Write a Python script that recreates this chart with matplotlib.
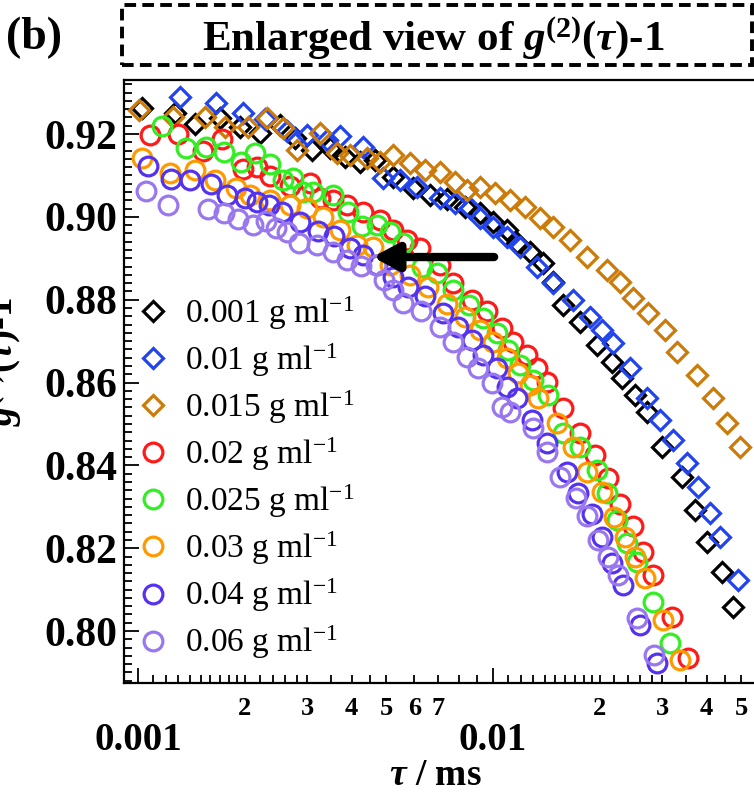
import numpy as np
import matplotlib
matplotlib.use("Agg")
import matplotlib.pyplot as plt
from matplotlib.patches import Rectangle
from matplotlib.ticker import FixedLocator, FuncFormatter

plt.rcParams['font.family'] = ['Liberation Serif', 'DejaVu Serif']
plt.rcParams['mathtext.fontset'] = 'custom'
plt.rcParams['mathtext.rm'] = 'Liberation Serif'
plt.rcParams['mathtext.it'] = 'Liberation Serif:italic'
plt.rcParams['mathtext.bf'] = 'Liberation Serif:bold'
plt.rcParams['mathtext.bfit'] = 'Liberation Serif:italic:bold'

# tau in ms, g2(tau)-1 values
tau_0001 = [0.001026, 0.001271, 0.001447, 0.001702, 0.001938, 0.002206, 0.002512, 0.002769,
            0.003091, 0.003474, 0.003829, 0.004220, 0.004652, 0.005228, 0.005952, 0.006646,
            0.007421, 0.008340, 0.009192, 0.010000, 0.010951, 0.011684, 0.012712, 0.013831,
            0.014758, 0.015747, 0.017582, 0.019632, 0.021638, 0.023088, 0.025120, 0.027153,
            0.029927, 0.034073, 0.037070, 0.040071, 0.044166, 0.047431]
g_0001 = [0.9263, 0.9251, 0.9224, 0.9239, 0.9217, 0.9202, 0.9222, 0.9190,
          0.9161, 0.9166, 0.9144, 0.9132, 0.9137, 0.9096, 0.9070, 0.9053,
          0.9043, 0.9024, 0.9009, 0.8988, 0.8968, 0.8937, 0.8915, 0.8889,
          0.8843, 0.8787, 0.8746, 0.8691, 0.8650, 0.8611, 0.8570, 0.8529,
          0.8444, 0.8372, 0.8292, 0.8215, 0.8143, 0.8058]

tau_001 = [0.001313, 0.001659, 0.001976, 0.002279, 0.002629, 0.002993, 0.003407, 0.003707,
           0.004303, 0.004900, 0.005470, 0.006108, 0.007091, 0.007816, 0.008615, 0.009192,
           0.010000, 0.010951, 0.011914, 0.013303, 0.014758, 0.016802, 0.018761, 0.020279,
           0.021779, 0.024318, 0.027153, 0.029542, 0.032141, 0.035196, 0.037799, 0.040858,
           0.043597, 0.049000]
g_001 = [0.9289, 0.9275, 0.9251, 0.9236, 0.9207, 0.9198, 0.9186, 0.9195,
         0.9169, 0.9094, 0.9089, 0.9072, 0.9045, 0.9033, 0.9021, 0.8997,
         0.8975, 0.8951, 0.8927, 0.8879, 0.8840, 0.8799, 0.8758, 0.8727,
         0.8695, 0.8635, 0.8563, 0.8510, 0.8461, 0.8406, 0.8348, 0.8285,
         0.8227, 0.8123]

tau_0015 = [0.001006, 0.001255, 0.001544, 0.001758, 0.002041, 0.002309, 0.002561, 0.002805,
            0.003256, 0.003636, 0.003955, 0.004417, 0.004805, 0.005228, 0.005837, 0.006434,
            0.007091, 0.007816, 0.008449, 0.009192, 0.010131, 0.011166, 0.012307, 0.013564,
            0.014758, 0.016478, 0.018399, 0.020948, 0.022791, 0.024796, 0.027329, 0.030515,
            0.032985, 0.037554, 0.041661, 0.045621, 0.049640]
g_0015 = [0.9258, 0.9241, 0.9241, 0.9217, 0.9217, 0.9239, 0.9214, 0.9161,
          0.9202, 0.9154, 0.9149, 0.9142, 0.9132, 0.9149, 0.9130, 0.9113,
          0.9108, 0.9084, 0.9065, 0.9072, 0.9058, 0.9041, 0.9024, 0.8997,
          0.8975, 0.8944, 0.8903, 0.8872, 0.8843, 0.8804, 0.8768, 0.8727,
          0.8674, 0.8618, 0.8563, 0.8502, 0.8444]

tau_002 = [0.001081, 0.001296, 0.001524, 0.001724, 0.001976, 0.002164, 0.002354, 0.002680,
           0.003051, 0.003256, 0.003542, 0.003879, 0.004303, 0.004805, 0.005228, 0.005725,
           0.006228, 0.007091, 0.007715, 0.008727, 0.009619, 0.010601, 0.011385, 0.012467,
           0.013303, 0.014194, 0.015747, 0.017582, 0.019379, 0.021084, 0.022791, 0.024796,
           0.026457, 0.028230, 0.031933, 0.035425]
g_002 = [0.9198, 0.9200, 0.9159, 0.9188, 0.9116, 0.9120, 0.9099, 0.9074,
         0.9082, 0.9045, 0.9041, 0.9029, 0.9012, 0.8992, 0.8968, 0.8944,
         0.8925, 0.8884, 0.8840, 0.8799, 0.8773, 0.8732, 0.8698, 0.8666,
         0.8635, 0.8601, 0.8538, 0.8478, 0.8425, 0.8369, 0.8307, 0.8254,
         0.8191, 0.8135, 0.8034, 0.7935]

tau_0025 = [0.001168, 0.001365, 0.001554, 0.001747, 0.001950, 0.002136, 0.002354, 0.002561,
            0.002733, 0.002916, 0.003111, 0.003542, 0.003904, 0.004276, 0.004713, 0.005127,
            0.005578, 0.006310, 0.006955, 0.007715, 0.008559, 0.009373, 0.010263, 0.011022,
            0.011914, 0.012962, 0.014287, 0.015747, 0.017582, 0.019632, 0.020948, 0.022351,
            0.023849, 0.025447, 0.028230, 0.031521]
g_0025 = [0.9219, 0.9166, 0.9169, 0.9157, 0.9132, 0.9154, 0.9128, 0.9089,
          0.9094, 0.9060, 0.9060, 0.9053, 0.9012, 0.8978, 0.8980, 0.8963,
          0.8937, 0.8879, 0.8864, 0.8823, 0.8787, 0.8756, 0.8720, 0.8679,
          0.8642, 0.8606, 0.8570, 0.8478, 0.8444, 0.8389, 0.8333, 0.8268,
          0.8213, 0.8167, 0.8070, 0.7971]

tau_003 = [0.001026, 0.001231, 0.001447, 0.001648, 0.001888, 0.002068, 0.002354, 0.002680,
           0.002993, 0.003320, 0.003707, 0.004139, 0.004592, 0.005127, 0.005837, 0.006560,
           0.007421, 0.008340, 0.009192, 0.010000, 0.010951, 0.011761, 0.012712, 0.013389,
           0.015146, 0.016802, 0.018399, 0.020279, 0.021921, 0.023542, 0.025120, 0.026803,
           0.030122, 0.033634]
g_003 = [0.9142, 0.9106, 0.9113, 0.9089, 0.9070, 0.9053, 0.9041, 0.9029,
         0.9021, 0.9000, 0.8968, 0.8932, 0.8927, 0.8884, 0.8860, 0.8831,
         0.8790, 0.8758, 0.8727, 0.8698, 0.8659, 0.8623, 0.8594, 0.8563,
         0.8502, 0.8444, 0.8384, 0.8336, 0.8275, 0.8227, 0.8179, 0.8128,
         0.8027, 0.7930]

tau_004 = [0.001067, 0.001239, 0.001401, 0.001606, 0.001781, 0.002002, 0.002164, 0.002339,
           0.002545, 0.002860, 0.003214, 0.003565, 0.003955, 0.004303, 0.004713, 0.005228,
           0.005762, 0.006434, 0.007231, 0.007970, 0.008727, 0.009373, 0.010263, 0.010951,
           0.011684, 0.012878, 0.014194, 0.016161, 0.017356, 0.019005, 0.020279, 0.021638,
           0.023238, 0.025948, 0.028972]
g_004 = [0.9123, 0.9091, 0.9089, 0.9079, 0.9053, 0.9045, 0.9036, 0.9029,
         0.9012, 0.8988, 0.8966, 0.8954, 0.8925, 0.8908, 0.8884, 0.8855,
         0.8831, 0.8809, 0.8768, 0.8734, 0.8703, 0.8666, 0.8635, 0.8589,
         0.8563, 0.8510, 0.8454, 0.8384, 0.8333, 0.8283, 0.8227, 0.8164,
         0.8111, 0.8015, 0.7923]

tau_006 = [0.001053, 0.001215, 0.001575, 0.001747, 0.001913, 0.002108, 0.002294, 0.002448,
           0.002629, 0.002841, 0.003193, 0.003542, 0.003879, 0.004248, 0.004682, 0.004931,
           0.005228, 0.005578, 0.006269, 0.007091, 0.007715, 0.008449, 0.009074, 0.009936,
           0.010601, 0.011166, 0.012962, 0.014194, 0.015443, 0.017132, 0.018399, 0.019760,
           0.021084, 0.022497, 0.025447, 0.028414]
g_006 = [0.9062, 0.9029, 0.9019, 0.9009, 0.8995, 0.8980, 0.8990, 0.8973,
         0.8963, 0.8937, 0.8932, 0.8915, 0.8896, 0.8881, 0.8884, 0.8848,
         0.8823, 0.8792, 0.8773, 0.8734, 0.8698, 0.8662, 0.8635, 0.8599,
         0.8541, 0.8529, 0.8490, 0.8432, 0.8372, 0.8321, 0.8278, 0.8220,
         0.8179, 0.8135, 0.8032, 0.7942]

series = [
    (tau_0001, g_0001, 'D', '#000000', '0.001'),
    (tau_001, g_001, 'D', '#2244ee', '0.01'),
    (tau_0015, g_0015, 'D', '#cc7a0a', '0.015'),
    (tau_002, g_002, 'o', '#ff1a1a', '0.02'),
    (tau_0025, g_0025, 'o', '#33ee22', '0.025'),
    (tau_003, g_003, 'o', '#ff9900', '0.03'),
    (tau_004, g_004, 'o', '#5533ee', '0.04'),
    (tau_006, g_006, 'o', '#9977ee', '0.06'),
]

fig = plt.figure(figsize=(7.54, 7.92), dpi=100)
ax = fig.add_axes([124 / 754, 1 - 683 / 792, (800 - 124) / 754, (683 - 80) / 792])

for t, g, m, c, lab in series:
    ms = 10.5 if m == 'D' else 13.5
    ax.plot(t, g, linestyle='none', marker=m, markersize=ms, markerfacecolor='none',
            markeredgecolor=c, markeredgewidth=2.3, label=lab + r' g ml$^{-1}$')

ax.set_xscale('log')
ax.set_xlim(0.000913, 0.0733)
ax.set_ylim(0.78746, 0.93304)

# x ticks
ax.xaxis.set_major_locator(FixedLocator([0.001, 0.01]))
ax.xaxis.set_major_formatter(FuncFormatter(lambda v, p: '0.001' if v < 0.005 else '0.01'))
mults = [1.1, 1.2, 1.3, 1.4, 1.5, 1.6, 1.7, 1.8, 1.9, 2, 2.2, 2.4, 2.6, 2.8, 3, 3.5, 4, 4.5, 5, 6, 7, 8, 9]
minor = [m * 0.001 for m in mults] + [m * 0.01 for m in mults]
ax.xaxis.set_minor_locator(FixedLocator(minor))
labelled = {2, 3, 4, 5, 6, 7}


def minor_fmt(v, p):
    for dec in (0.001, 0.01):
        m = v / dec
        if abs(m - round(m)) < 1e-6 and round(m) in labelled:
            if dec == 0.01 and round(m) > 5:
                return ''
            return str(int(round(m)))
    return ''


ax.xaxis.set_minor_formatter(FuncFormatter(minor_fmt))

ax.yaxis.set_major_locator(FixedLocator([0.80, 0.82, 0.84, 0.86, 0.88, 0.90, 0.92]))
ax.yaxis.set_major_formatter(FuncFormatter(lambda v, p: '%.2f' % v))
ax.yaxis.set_minor_locator(FixedLocator(np.arange(0.788, 0.934, 0.002)))

ax.tick_params(axis='both', which='both', direction='in', top=False, right=False, width=1.3)
ax.tick_params(axis='y', which='major', length=11, labelsize=30, pad=5)
ax.tick_params(axis='y', which='minor', length=6)
ax.tick_params(axis='x', which='major', length=11, labelsize=28, pad=28)
ax.tick_params(axis='x', which='minor', length=6, labelsize=19, pad=10)
for lab in ax.get_yticklabels() + ax.get_xticklabels() + ax.get_xticklabels(minor=True):
    lab.set_fontweight('bold')
for s in ax.spines.values():
    s.set_linewidth(1.6)

ax.set_xlabel(r'$\mathbfit{\tau}$ / ms', fontsize=27, fontweight='bold')
ax.xaxis.set_label_coords(0.46, -0.124)

fig.text(24 / 754, 1 - 362 / 792, r'$\mathbfit{g}^{\mathbf{(2)}}\mathbf{(}\mathbfit{\tau}\mathbf{)}$-1',
         rotation=90, ha='right', va='center', fontsize=28, fontweight='bold')

# arrow
arrow_tail = (0.01026, 0.8903)
arrow_head = (0.00450, 0.8903)
ax.annotate('', xy=arrow_head, xytext=arrow_tail,
            arrowprops=dict(arrowstyle='-|>,head_length=1.5,head_width=0.8', lw=6, color='black'))

leg = ax.legend(loc='upper left', bbox_to_anchor=(0.019, 0.645), frameon=False, fontsize=24,
                handlelength=0.95, handletextpad=0.5, labelspacing=0.285, borderpad=0, borderaxespad=0)

# title box
fig.patches.append(Rectangle((122 / 754, 1 - 65 / 792), (752 - 122) / 754, 60 / 792,
                             transform=fig.transFigure, fill=False, linewidth=2.8,
                             linestyle=(0, (3, 1.6)), edgecolor='black'))
fig.text(433 / 754, 1 - 38 / 792,
         r'Enlarged view of $\mathbfit{g}^{\mathbf{(2)}}\mathbf{(}\mathbfit{\tau}\mathbf{)}$-1',
         ha='center', va='center', fontsize=31, fontweight='bold')
fig.text(6 / 754, 1 - 38 / 792, '(b)', ha='left', va='center', fontsize=33, fontweight='bold')

fig.savefig('out.png', dpi=100)
